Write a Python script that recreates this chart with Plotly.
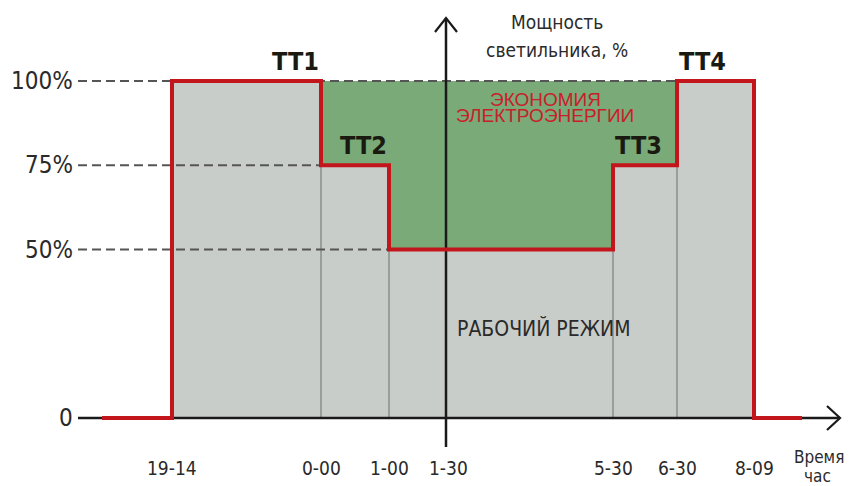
import plotly.graph_objects as go

# ---------------- data ----------------
time_labels = ["19-14", "0-00", "1-00", "1-30", "5-30", "6-30", "8-09"]
time_pos = [0, 149, 217, 274, 441, 505, 582]          # schematic time scale
step_labels = ["19-14", "0-00", "1-00", "5-30", "6-30", "8-09"]
power_levels = [100, 75, 50, 75, 100]                 # % between successive step times
y_tick_vals = [0, 50, 75, 100]
y_tick_text = ["0", "50%", "75%", "100%"]
tt_labels = ["TT1", "TT2", "TT3", "TT4"]
tt_times = ["0-00", "1-00", "5-30", "6-30"]
tt_levels = [100, 75, 75, 100]
tt_side = ["right", "right", "left", "left"]
axis_time = "1-30"

# ---------------- geometry helpers ----------------
PAGE = 8                      # default page body margin
W, H = 852 - PAGE, 486 - PAGE
PX_PER_Y = 3.37
X0 = -172 + PAGE
X1 = X0 + W
Y0 = -(486 - 418) / PX_PER_Y
Y1 = 100 + (81 - PAGE) / PX_PER_Y
px_y = lambda p: p / PX_PER_Y  # pixels -> y units

pos = dict(zip(time_labels, time_pos))
sx = [pos[t] for t in step_labels]
lead = 70
left_edge = -94
x_tip = 668
y_tip = 118.7
y_axis_x = pos[axis_time]

# step profile
prof_x, prof_y = [], []
for i, lvl in enumerate(power_levels):
    prof_x += [sx[i], sx[i + 1]]
    prof_y += [lvl, lvl]

RED = "#c2151c"
GREY_FILL = "#c9cdc9"
GREEN = "#79aa77"
NARROW = "DejaVu Sans Condensed, Liberation Sans Narrow, sans-serif"
TXT = "#2a2a2a"

fig = go.Figure()

# grey working-mode fill
fig.add_trace(go.Scatter(
    x=[sx[0]] + prof_x + [sx[-1]], y=[0] + prof_y + [0],
    fill="toself", fillcolor=GREY_FILL, line=dict(width=0), mode="lines",
    hoverinfo="skip", showlegend=False))

# green savings fill
gx = prof_x[2:-2]
gy = prof_y[2:-2]
top = max(power_levels)
fig.add_trace(go.Scatter(
    x=[gx[0]] + gx + [gx[-1]], y=[top] + gy + [top],
    fill="toself", fillcolor=GREEN, line=dict(width=0), mode="lines",
    hoverinfo="skip", showlegend=False))

# thin vertical separators
for i in range(1, len(sx) - 1):
    h = min(power_levels[i - 1], power_levels[i])
    fig.add_trace(go.Scatter(x=[sx[i], sx[i]], y=[0, h], mode="lines",
                             line=dict(color="#6d706d", width=1),
                             hoverinfo="skip", showlegend=False))

# dashed reference lines
dash_end = {100: pos["6-30"], 75: pos["0-00"], 50: pos["1-00"]}
for v in y_tick_vals[1:]:
    fig.add_trace(go.Scatter(x=[left_edge, dash_end[v]], y=[v, v], mode="lines",
                             line=dict(color="#555555", width=2, dash="9px,5px"),
                             hoverinfo="skip", showlegend=False))

# axes lines
fig.add_trace(go.Scatter(x=[left_edge, x_tip], y=[0, 0], mode="lines",
                         line=dict(color="#1a1a1a", width=2.5),
                         hoverinfo="skip", showlegend=False))
fig.add_trace(go.Scatter(x=[y_axis_x, y_axis_x], y=[px_y(-29), y_tip], mode="lines",
                         line=dict(color="#1a1a1a", width=2.5),
                         hoverinfo="skip", showlegend=False))
# chevrons
fig.add_trace(go.Scatter(x=[x_tip - 13, x_tip, x_tip - 13], y=[px_y(12), 0, px_y(-12)],
                         mode="lines", line=dict(color="#1a1a1a", width=2.2),
                         hoverinfo="skip", showlegend=False))
fig.add_trace(go.Scatter(x=[y_axis_x - 11, y_axis_x, y_axis_x + 11],
                         y=[y_tip - px_y(14), y_tip, y_tip - px_y(14)],
                         mode="lines", line=dict(color="#1a1a1a", width=2.2),
                         hoverinfo="skip", showlegend=False))

# red power profile
fig.add_trace(go.Scatter(
    x=[sx[0] - lead, sx[0]] + prof_x + [sx[-1], sx[-1] + 48],
    y=[0, 0] + prof_y + [0, 0],
    mode="lines", line=dict(color=RED, width=4), hoverinfo="skip", showlegend=False))

ann = []
# y tick labels
for v, t in zip(y_tick_vals, y_tick_text):
    ann.append(dict(x=-97, y=v, text=t, xanchor="right", yanchor="middle",
                    showarrow=False, font=dict(family=NARROW, size=24, color=TXT)))
# x tick labels
for p, t in zip(time_pos, time_labels):
    ann.append(dict(x=p + (2 if t == axis_time else 0), y=px_y(-50), text=t,
                    xanchor="center", yanchor="middle", showarrow=False,
                    font=dict(family=NARROW, size=19, color=TXT)))
# axis titles
ann.append(dict(x=679, y=px_y(-39), text="Время,", xanchor="right", yanchor="middle",
                showarrow=False, font=dict(family=NARROW, size=17, color=TXT)))
ann.append(dict(x=645, y=px_y(-58), text="час", xanchor="center", yanchor="middle",
                showarrow=False, font=dict(family=NARROW, size=17, color=TXT)))
ann.append(dict(x=385, y=px_y(418 - 22), text="Мощность", xanchor="center", yanchor="middle",
                showarrow=False, font=dict(family=NARROW, size=19, color=TXT)))
ann.append(dict(x=385, y=px_y(418 - 50), text="светильника, %", xanchor="center",
                yanchor="middle", showarrow=False,
                font=dict(family=NARROW, size=19, color=TXT)))
# TT labels
for t, tt, lvl, side in zip(tt_labels, tt_times, tt_levels, tt_side):
    ann.append(dict(x=pos[tt], y=lvl + px_y(20), text=f"<b>{t}</b>",
                    xanchor=side, yanchor="middle", showarrow=False,
                    font=dict(family=NARROW, size=25, color="#1a1a10")))
# region labels
ann.append(dict(x=373, y=px_y(418 - 99), text="ЭКОНОМИЯ", xanchor="center", yanchor="middle",
                showarrow=False, font=dict(family="Liberation Sans, Arial, sans-serif",
                                           size=19, color="#c8202a")))
ann.append(dict(x=373, y=px_y(418 - 115), text="ЭЛЕКТРОЭНЕРГИИ", xanchor="center",
                yanchor="middle", showarrow=False,
                font=dict(family="Liberation Sans, Arial, sans-serif", size=19, color="#c8202a")))
ann.append(dict(x=371, y=px_y(418 - 328), text="РАБОЧИЙ РЕЖИМ", xanchor="center",
                yanchor="middle", showarrow=False,
                font=dict(family=NARROW, size=21, color=TXT)))

fig.update_layout(
    width=W, height=H, margin=dict(l=0, r=0, t=0, b=0),
    paper_bgcolor="white", plot_bgcolor="white",
    xaxis=dict(range=[X0, X1], visible=False, fixedrange=True),
    yaxis=dict(range=[Y0, Y1], visible=False, fixedrange=True),
    annotations=ann, showlegend=False,
)

fig.write_html("out.html")
